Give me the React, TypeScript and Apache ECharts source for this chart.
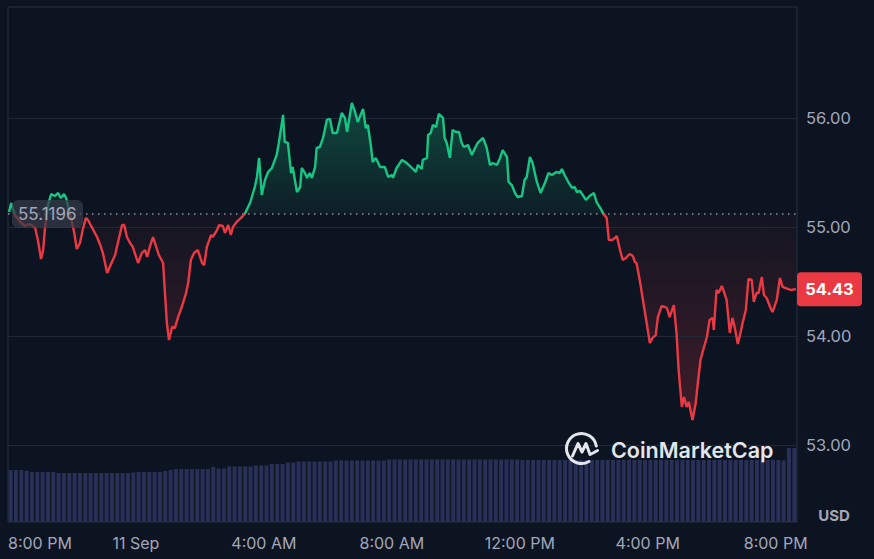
import React, { useEffect, useRef } from 'react';
import * as echarts from 'echarts';

// ---------- data ----------
const BASELINE = 55.1196;

// minutes since 10 Sep, 8:00 PM
const minutes = [2,6,13,23,32,41,51,56,62,66,69,75,81,88,94,99,105,109,116,124,129,135,141,146,150,158,167,173,178,186,195,201,206,214,218,223,229,234,244,251,257,261,266,272,278,283,291,294,298,302,308,313,319,326,334,338,343,349,356,364,368,373,381,384,392,396,403,407,413,418,422,429,437,444,454,463,467,471,476,482,488,495,504,508,516,519,525,531,534,542,548,551,557,561,566,570,576,579,585,591,598,604,609,617,626,632,636,645,651,656,666,671,675,681,684,690,698,707,713,720,722,729,739,748,758,765,769,776,778,786,788,793,797,803,808,816,819,823,829,834,840,846,851,855,863,870,876,881,891,898,904,909,917,923,928,936,939,945,951,956,964,969,973,979,984,992,999,1007,1014,1020,1029,1035,1039,1044,1052,1058,1063,1067,1073,1078,1084,1091,1099,1104,1110,1116,1123,1127,1134,1142,1148,1153,1159,1166,1172,1176,1179,1185,1191,1198,1204,1209,1215,1219,1226,1232,1236,1241,1249,1254,1258,1264,1268,1273,1277,1284,1290,1294,1299,1303,1311,1316,1322,1324,1329,1333,1339,1343,1348,1354,1359,1363,1369,1374,1378,1384,1389,1395,1399,1404,1408,1414,1418,1423,1431,1434,1442,1448,1453,1459,1468,1478];

const prices = [55.138,55.220,55.110,55.046,55.009,55.028,54.991,54.881,54.706,54.789,54.972,55.202,55.303,55.284,55.312,55.266,55.303,55.266,55.128,54.954,54.798,54.853,54.991,55.083,55.064,54.991,54.908,54.835,54.761,54.578,54.679,54.743,54.853,55.018,55.018,54.908,54.853,54.817,54.670,54.761,54.789,54.725,54.817,54.908,54.817,54.743,54.670,54.422,54.119,53.963,54.083,54.073,54.174,54.266,54.394,54.486,54.697,54.761,54.789,54.670,54.651,54.817,54.927,54.908,54.972,55.018,55.009,54.945,55.018,54.927,55.000,55.046,55.083,55.119,55.220,55.367,55.459,55.633,55.294,55.431,55.505,55.541,55.661,55.771,56.028,55.780,55.771,55.495,55.550,55.321,55.367,55.541,55.495,55.450,55.495,55.450,55.550,55.725,55.734,55.817,55.982,55.991,55.862,55.862,56.046,56.000,55.872,56.138,56.055,55.963,56.083,55.908,55.936,55.734,55.596,55.633,55.550,55.550,55.459,55.477,55.450,55.541,55.615,55.587,55.541,55.505,55.569,55.532,55.615,55.633,55.844,55.862,55.936,55.917,56.037,56.000,55.817,55.771,55.633,55.890,55.872,55.872,55.771,55.734,55.752,55.661,55.725,55.771,55.817,55.725,55.569,55.587,55.569,55.633,55.706,55.642,55.413,55.385,55.312,55.275,55.284,55.431,55.459,55.642,55.587,55.413,55.312,55.404,55.495,55.477,55.505,55.495,55.532,55.477,55.404,55.358,55.367,55.321,55.330,55.294,55.248,55.284,55.312,55.229,55.183,55.128,55.083,54.881,54.881,54.917,54.789,54.697,54.716,54.752,54.734,54.679,54.670,54.514,54.330,54.119,53.936,53.982,54.009,54.174,54.275,54.266,54.257,54.174,54.284,54.028,53.688,53.349,53.440,53.349,53.394,53.229,53.385,53.569,53.780,53.853,53.991,54.147,54.165,54.055,54.422,54.394,54.459,54.404,54.330,54.028,54.165,54.083,53.927,54.028,54.119,54.239,54.523,54.514,54.312,54.394,54.394,54.541,54.376,54.349,54.248,54.220,54.330,54.532,54.450,54.440,54.422,54.430];

// volume, one value per 10-minute slot
const volumes = [
  52,52,52,51,50,50,50,50,50,49,
  49,49,49,49,49,49,49,49,49,49,
  49,49,49,49.5,50,50,50,50,50,51,
  52,53,53,53,53,53,53,53,55,53.5,
  53.5,55.5,55.5,55.5,55.5,55.5,56.5,56.5,56.5,58,
  58,58,59.5,59.5,60.5,60.5,60.5,60.5,60.5,60.5,
  60.5,61.5,61.5,61.5,61.5,61.5,61.5,61.5,61.5,61.5,
  61.5,62.5,62.5,62.5,62.5,62.5,62.5,62.5,62.5,62.5,
  62.5,62.5,62.5,62.5,62.5,62.5,62.5,62.5,62.5,62.5,
  62.5,62.5,62.5,62.5,62.5,62.5,62,62,62,62,
  62,62,62,62,62,62,62,62,62,62,
  62,62,62,62,62,62,62,62,62,62,
  62,62,62,62,62,62,62,62,62,62,
  62,62,62,62,62,62,62,62,62,62,
  62,62,62,62,62,61.5,74,74,
];

const yTickValues = [53, 54, 55, 56];
const xTickMinutes = [0, 240, 480, 720, 960, 1200, 1440];
const dayLabel = '11 Sep';

// ---------- styles ----------
const GREEN = '#16c784';
const RED = '#ea3943';
const BG = '#0d1421';
const LABEL = '#a1a7bb';
const FONT = 'Inter, "Noto Sans", sans-serif';

function fmtTime(v: number): string {
  const m = Math.round(v);
  if (!xTickMinutes.includes(m)) return '';
  if (m === 240) return dayLabel;
  const total = 20 * 60 + m;
  const h24 = Math.floor(total / 60) % 24;
  const mm = total % 60;
  const h12 = h24 % 12 === 0 ? 12 : h24 % 12;
  return `${h12}:${String(mm).padStart(2, '0')} ${h24 < 12 ? 'AM' : 'PM'}`;
}

export default function App() {
  const ref = useRef<HTMLDivElement>(null);

  useEffect(() => {
    if (!ref.current) return;
    const chart = echarts.init(ref.current, null, { renderer: 'svg' });
    const n = Math.min(minutes.length, prices.length);
    const lineData = [] as number[][];
    const upData = [] as number[][];
    const downData = [] as number[][];
    for (let i = 0; i < n; i++) {
      lineData.push([minutes[i], prices[i]]);
      upData.push([minutes[i], Math.max(prices[i], BASELINE)]);
      downData.push([minutes[i], Math.min(prices[i], BASELINE)]);
    }
    const volData = volumes.map((v, i) => [i * 10 + 5, v]);

    chart.setOption({
      animation: false,
      backgroundColor: BG,
      grid: [
        { left: 8, right: 77, top: 7, bottom: 37, show: true, borderColor: '#283040', borderWidth: 1, backgroundColor: 'transparent' },
        { left: 8, right: 77, top: 440, bottom: 37 },
      ],
      xAxis: [
        {
          type: 'value', gridIndex: 0, min: 0, max: 1480, interval: 240,
          axisLine: { show: false }, axisTick: { show: false }, splitLine: { show: false },
          axisLabel: {
            color: LABEL, fontSize: 16, fontFamily: FONT, margin: 13,
            alignMinLabel: 'left', formatter: fmtTime,
          },
        },
        { type: 'value', gridIndex: 1, min: 0, max: 1480, show: false },
      ],
      yAxis: [
        {
          type: 'value', gridIndex: 0, position: 'right', min: 52.294, max: 57.018, scale: true,
          axisLine: { show: false }, axisTick: { show: false }, splitLine: { show: false },
          axisLabel: {
            color: LABEL, fontSize: 16.5, fontFamily: FONT, margin: 9,
            formatter: (v: number) => {
              const r = Math.round(v);
              return Math.abs(v - r) < 1e-6 && yTickValues.includes(r) ? r.toFixed(2) : '';
            },
          },
        },
        { type: 'value', gridIndex: 1, min: 0, max: 82, show: false },
      ],
      series: [
        {
          type: 'line', xAxisIndex: 0, yAxisIndex: 0, data: lineData, symbol: 'none',
          lineStyle: { width: 2.4, color: GREEN }, z: 5, silent: true,
        },
        {
          type: 'line', xAxisIndex: 0, yAxisIndex: 0, data: upData, symbol: 'none',
          lineStyle: { width: 0, opacity: 0 }, z: 3, silent: true,
          areaStyle: {
            origin: BASELINE,
            color: new echarts.graphic.LinearGradient(0, 0, 0, 1, [
              { offset: 0, color: 'rgba(22,199,132,0.42)' },
              { offset: 1, color: 'rgba(22,199,132,0.08)' },
            ]),
          },
          markLine: {
            silent: true, symbol: ['none', 'none'], label: { show: false },
            data: [
              ...yTickValues.map((v) => ({ yAxis: v, lineStyle: { color: '#222836', type: 'solid', width: 1 } })),
              { yAxis: BASELINE, lineStyle: { color: '#8b909c', type: [1.5, 4.5], width: 1.5 } },
            ],
          },
        },
        {
          type: 'line', xAxisIndex: 0, yAxisIndex: 0, data: downData, symbol: 'none',
          lineStyle: { width: 0, opacity: 0 }, z: 3, silent: true,
          areaStyle: {
            origin: BASELINE,
            color: new echarts.graphic.LinearGradient(0, 0, 0, 1, [
              { offset: 0, color: 'rgba(234,57,67,0.04)' },
              { offset: 1, color: 'rgba(234,57,67,0.32)' },
            ]),
          },
        },
        {
          type: 'bar', xAxisIndex: 1, yAxisIndex: 1, data: volData, barWidth: 4,
          itemStyle: { color: '#283058' }, z: 1, silent: true,
        },
      ],
    });

    const yBase = chart.convertToPixel({ yAxisIndex: 0 }, BASELINE) as number;
    const last = prices[n - 1];
    const yLast = chart.convertToPixel({ yAxisIndex: 0 }, last) as number;
    const LOGO = '#e3e6ec';
    const H = 559;
    const off = Math.max(0, Math.min(1, yBase / H));

    chart.setOption({
      series: [
        {
          lineStyle: {
            color: new echarts.graphic.LinearGradient(0, 0, 0, H, [
              { offset: 0, color: GREEN },
              { offset: off, color: GREEN },
              { offset: off, color: RED },
              { offset: 1, color: RED },
            ], true),
          },
        },
      ],
      graphic: [
        { type: 'rect', z: 100, shape: { x: 12, y: yBase - 14, width: 71, height: 28, r: 6 }, style: { fill: 'rgba(52,58,72,0.72)' } },
        { type: 'text', z: 101, x: 18, y: yBase, style: { text: String(BASELINE), fill: LABEL, fontSize: 17, fontFamily: FONT, align: 'left', verticalAlign: 'middle', textAlign: 'left', textVerticalAlign: 'middle' } },
        { type: 'rect', z: 100, shape: { x: 797, y: yLast - 17, width: 65, height: 34, r: 4 }, style: { fill: RED } },
        { type: 'text', z: 101, x: 829.5, y: yLast, style: { text: last.toFixed(2), fill: '#ffffff', fontSize: 16.5, fontWeight: 'bold', fontFamily: FONT, align: 'center', verticalAlign: 'middle', textAlign: 'center', textVerticalAlign: 'middle' } },
        { type: 'text', z: 101, x: 834, y: 515, style: { text: 'USD', fill: LABEL, fontSize: 15, fontWeight: 'bold', fontFamily: FONT, align: 'center', verticalAlign: 'middle', textAlign: 'center', textVerticalAlign: 'middle' } },
        { type: 'arc', z: 101, shape: { cx: 581.5, cy: 448.5, r: 15, startAngle: Math.PI / 3, endAngle: Math.PI * 2 - 0.17, clockwise: true }, style: { stroke: LOGO, lineWidth: 3, fill: 'none', lineCap: 'round' } },
        { type: 'polyline', z: 101, shape: { points: [[572.5, 456], [578, 443.5], [582, 452], [586, 443.5], [590, 454.5], [594, 452.5], [597.5, 450.5]] }, style: { stroke: LOGO, lineWidth: 3, fill: 'none', lineJoin: 'round', lineCap: 'round' } },
        { type: 'text', z: 101, x: 611, y: 450, style: { text: 'CoinMarketCap', fill: LOGO, fontSize: 21.5, fontWeight: 600, fontFamily: FONT, align: 'left', verticalAlign: 'middle', textAlign: 'left', textVerticalAlign: 'middle' } },
      ],
    });

    return () => chart.dispose();
  }, []);

  return (
    <div
      ref={ref}
      style={{ position: 'fixed', left: 0, top: 0, width: 874, height: 559, background: BG }}
    />
  );
}
